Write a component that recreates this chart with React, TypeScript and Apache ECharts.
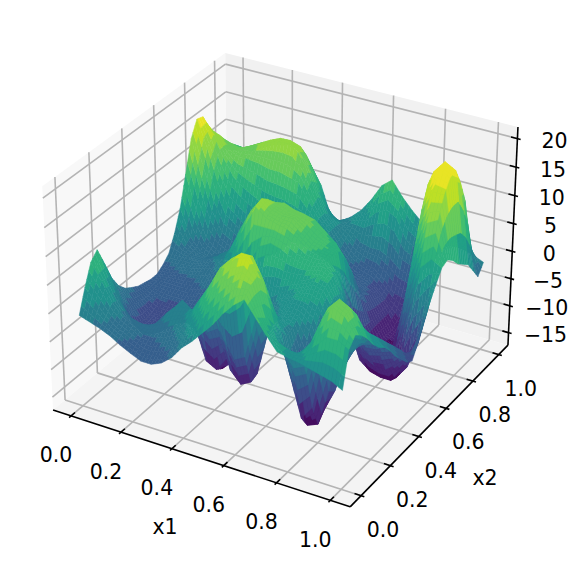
import React, { useEffect, useRef } from "react";
import * as echarts from "echarts";

const x1Ticks = [0, 0.2, 0.4, 0.6, 0.8, 1];
const x2Ticks = [0, 0.2, 0.4, 0.6, 0.8, 1];
const zTicks = [-15, -10, -5, 0, 5, 10, 15, 20];
const colorStops = ["#440154", "#482475", "#414487", "#355f8d", "#2a788e", "#21918c", "#22a884", "#44bf70", "#7ad151", "#bddf26", "#fde725"];
// z values: one row per x1 (0 to 1), one column per x2 (0 to 1)
const zRows: number[][] = [
[-1,3,6.5,7.8,4.5,1,-1.3,-2.7,-3.5,-4.2,-4.5,-4.8,-4.8,-4,-2.8,0,3.7,9,14.5,17.2,16.8,13.8,10.8,9,7.7,6.7],
[-1.6,1,3.7,3.5,0.5,-2.5,-4.2,-5,-5.3,-5.4,-5,-4.6,-4.4,-3.8,-2.8,-2,-1,3,8,12.5,14,13.2,11.5,10,8.8,7.5],
[-2.2,-1,0.5,0,-3,-6,-7,-7.2,-7,-6.2,-5.4,-4.6,-4,-3.4,-2.8,-3,-3.2,-1.5,2.5,7,10.5,11,10.4,9.6,8.6,7.5],
[-3,-2.4,-1.5,-2.5,-5,-7.5,-8,-7.6,-7.2,-6.4,-5.5,-4.6,-3.8,-3,-2.8,-3,-3.8,-3.2,-1,3,7.5,10.2,11,10.5,9.5,8.5],
[-4.1,-3.2,-2.5,-3,-4.6,-6.8,-7.5,-7.4,-7.2,-6.4,-5.5,-4.5,-3.5,-2.5,-1.8,-2,-3.5,-4,-2,1.5,6,10.2,11.9,11.5,10.5,9.5],
[-5,-4.2,-3.6,-3.2,-3.5,-5,-6,-6.4,-6.4,-5.8,-5,-4,-3,-2,-1,-1,-3,-4.5,-3.5,0,5,10,12.7,12.5,11.3,10],
[-5.8,-4.8,-3.6,-2.2,-1.2,-1.6,-3.2,-5.5,-6.5,-6.2,-5,-3.2,-1.6,-0.4,0.5,0.5,-1.5,-4,-4,-1,4,9.5,13.5,13.3,11.8,10.5],
[-5.8,-4.6,-3,-1,0.6,0.8,-1.5,-6,-10,-9.5,-5.5,-2,0.5,3,3.5,2.6,0.6,-2.4,-3.8,-1.5,3.5,9.5,13.8,13.4,11.5,9.3],
[-5,-3.8,-2,0,0.8,-0.5,-4,-11.5,-13,-12.5,-6,-1,4.5,7,7,5,2.5,-0.6,-2.4,-1,3.5,9,13.6,12.8,10.5,7.5],
[-3.5,-2,0,1.5,1,-1.5,-6,-12.5,-13.3,-12.8,-5,1,9,10.5,10,8.5,4.5,1,-1,-0.5,3,8.5,10.9,10,7,4.5],
[-1.2,1,3.5,4.5,3,0,-5,-10,-11.5,-8.5,-2,4,12.5,13,12,10.5,7.5,3.5,1,1,3,5.5,6.8,5.5,2.5,-0.8],
[0.5,3.5,6.5,7.5,4.5,-4,-10.5,-11.5,-8.5,-4,1.5,7,11,11.5,11.6,11,8,4,1,0,1.5,3,3.1,2,0,-1],
[2.5,6.5,10,11,6,-7,-12.5,-12.3,-7,-2.5,3,8,10.5,11,11,10.3,8,3.5,0.5,-1,-0.5,1,1,0.8,0.4,0.3],
[4.5,9,12.5,13,8,-6,-11.5,-11,-4,-1,3.5,7.5,10,11,10.7,10,7.5,3,0,-2,-3,-2,-1,0,1,2],
[7,11,14.5,14.5,9.5,1,-4,-3.5,-1,1,3.5,6.5,9,9.5,10,9.5,6,2,-1,-3,-4,-4,-3,-1.5,1.5,4.5],
[9,12.5,15,14.5,9.5,3,0,0.5,2,2.5,4,6,7.5,8,8.5,8,5,1,-2,-4,-5,-5,-4,-2,3.5,7.5],
[10.5,12,12.5,11,7,3,1.5,2,3,3.5,4.5,6,7,7.5,7.5,6.5,3.5,-0.5,-3.5,-5,-5.5,-5.5,-4.5,-2,4.5,9],
[8,7,6,4,2,0,0.5,1.5,3,4.5,5.5,6.5,7,7,6.5,4,1,-2.5,-5,-6,-6.5,-7,-6,-3,3.5,6.5],
[5.5,4,2,-1,-6,-8,-4.5,-0.5,2,4,5,5.5,4,0,-4,-8,-9,-9,-9,-9,-9,-9,-8,-4.5,0,4.5],
[3.2,3.2,1,-4,-12.5,-14.8,-12,-5,-1.5,1,2,1,-3,-8,-12,-13,-13,-12.5,-12,-12,-12,-11,-8.5,-5,-1,2.8],
[2.8,2.5,1.5,-3,-10,-14,-12.5,-7.5,-4.5,-2.5,-1.5,-3,-6,-10,-13.5,-14.5,-14.5,-14,-13.5,-13,-12,-9.5,-6,-3,-0.5,2],
[2.5,3,4,4,-1,-7.5,-8.5,-6.5,-4.5,-3.5,-3.5,-5,-8,-11,-14,-14.8,-14,-10,-5,0,4,4.5,1,-2.5,-1,1],
[2,5,8.5,9.5,7,3,-1,-2,-2,-2.5,-3.5,-5,-7.5,-11,-14,-14.5,-9,-2,5,12,15.5,16.8,12,5.5,1,0.5],
[1.5,7,11,11.5,9,5.5,3.5,2,0.5,-1,-2.5,-4,-7,-9.5,-11.5,-12,-4,4,11,15.5,18.5,19,15,7.5,1.5,0],
[1,7,10,10.5,8.5,5.5,3.5,2,0.5,-1,-2.5,-4,-5.5,-7.5,-8.5,-7,-1,6,12,15.5,17.5,18,15,11,3,-0.5],
[0,6,7.5,6.5,5,3,1.5,0.5,-1,-3,-4.5,-6,-6.8,-4.5,-1.5,1,3,5,5.5,4.5,3,2,1,-1,-3,-1.3],
];

const W = 581, H = 568;
const CX = 284.7, CY = 269, SX = 2860, SY = 2855;
const LO = -0.0729, HI = 1.0729, ZLO = -17.35, ZHI = 22;
const COLOR_MIN = -14.8, COLOR_MAX = 18.5, LEVELS = 15, CELL_SPLIT = 3;
const BOX = [1.19, 1.19, 0.893];
const U = [0.866, 0.5, 0], V = [-0.25, 0.433, 0.866], P = [0.433, -0.75, 0.5];

function project(x1: number, x2: number, z: number) {
  const d = [
    BOX[0] * ((x1 - LO) / (HI - LO) - 0.5),
    BOX[1] * ((x2 - LO) / (HI - LO) - 0.5),
    BOX[2] * ((z - ZLO) / (ZHI - ZLO) - 0.5),
  ];
  const dot = (a: number[]) => a[0] * d[0] + a[1] * d[1] + a[2] * d[2];
  const depth = 10 - dot(P);
  return { xs: dot(U) / depth, ys: dot(V) / depth, depth };
}

function viridis(t: number) {
  const c = Math.max(0, Math.min(0.9999, t)) * (colorStops.length - 1);
  const i = Math.floor(c), f = c - i;
  const a = colorStops[i], b = colorStops[i + 1];
  const ch = (s: string, k: number) => parseInt(s.slice(1 + 2 * k, 3 + 2 * k), 16);
  const mix = (k: number) => Math.round(ch(a, k) + (ch(b, k) - ch(a, k)) * f);
  return `rgb(${mix(0)},${mix(1)},${mix(2)})`;
}

function bandColor(z: number) {
  const t = (z - COLOR_MIN) / (COLOR_MAX - COLOR_MIN);
  const lv = Math.max(0, Math.min(LEVELS - 1, Math.floor(t * LEVELS)));
  return viridis((lv + 0.5) / LEVELS);
}

type Cell = { i: number; j: number; depth: number };
function buildCells(): Cell[] {
  const n = zRows.length - 1, m = zRows[0].length - 1;
  const cells: Cell[] = [];
  for (let i = 0; i < n; i++) {
    for (let j = 0; j < m; j++) {
      const avg = (zRows[i][j] + zRows[i + 1][j] + zRows[i + 1][j + 1] + zRows[i][j + 1]) / 4;
      cells.push({ i, j, depth: project((i + 0.5) / n, (j + 0.5) / m, avg).depth });
    }
  }
  return cells.sort((a, b) => b.depth - a.depth);
}

const fontSpec = '20.5px "DejaVu Sans"';
const label = (t: number) => t.toFixed(1);
const zLabel = (t: number) => (t < 0 ? "\u2212" + Math.abs(t) : String(t));

export default function App() {
  const ref = useRef<HTMLDivElement>(null);
  useEffect(() => {
    if (!ref.current) return;
    const chart = echarts.init(ref.current, undefined, { renderer: "svg" });
    const cells = buildCells();
    const n = zRows.length - 1, m = zRows[0].length - 1;

    const pt = (api: any, x1: number, x2: number, z: number) => {
      const p = project(x1, x2, z);
      return api.coord([p.xs, p.ys]);
    };
    const poly = (api: any, pts: number[][], fill: string) => ({
      type: "polygon", shape: { points: pts.map((q) => pt(api, q[0], q[1], q[2])) }, style: { fill, stroke: "none" }, silent: true,
    });
    const seg = (api: any, a: number[], b: number[], stroke: string, lineWidth: number) => {
      const p = pt(api, a[0], a[1], a[2]), q = pt(api, b[0], b[1], b[2]);
      return { type: "line", shape: { x1: p[0], y1: p[1], x2: q[0], y2: q[1] }, style: { stroke, lineWidth }, silent: true };
    };
    const text = (s: string, x: number, y: number) => ({
      type: "text", style: { text: s, x, y, font: fontSpec, fill: "#000", align: "center", verticalAlign: "middle" }, silent: true,
    });

    const renderFrame = (_p: any, api: any) => {
      const kids: any[] = [
        poly(api, [[LO, LO, ZLO], [LO, HI, ZLO], [LO, HI, ZHI], [LO, LO, ZHI]], "#f8f8f8"),
        poly(api, [[LO, HI, ZLO], [HI, HI, ZLO], [HI, HI, ZHI], [LO, HI, ZHI]], "#f1f1f1"),
        poly(api, [[LO, LO, ZLO], [HI, LO, ZLO], [HI, HI, ZLO], [LO, HI, ZLO]], "#f4f4f4"),
      ];
      const G = "#b4b4b4", LW = 1.6;
      x1Ticks.forEach((t) => {
        kids.push(seg(api, [t, LO, ZLO], [t, HI, ZLO], G, LW));
        kids.push(seg(api, [t, HI, ZLO], [t, HI, ZHI], G, LW));
      });
      x2Ticks.forEach((t) => {
        kids.push(seg(api, [HI, t, ZLO], [LO, t, ZLO], G, LW));
        kids.push(seg(api, [LO, t, ZLO], [LO, t, ZHI], G, LW));
      });
      zTicks.forEach((t) => {
        kids.push(seg(api, [LO, LO, t], [LO, HI, t], G, LW));
        kids.push(seg(api, [LO, HI, t], [HI, HI, t], G, LW));
      });
      kids.push(seg(api, [LO, LO, ZLO], [HI, LO, ZLO], "#000", LW));
      kids.push(seg(api, [HI, LO, ZLO], [HI, HI, ZLO], "#000", LW));
      kids.push(seg(api, [HI, HI, ZLO], [HI, HI, ZHI], "#000", LW));
      return { type: "group", children: kids };
    };

    // Each table cell is one flat-geometry quad; the colour bands are evaluated across it.
    const renderCell = (_p: any, api: any) => {
      const { i, j } = cells[api.value(0)];
      const a = zRows[i][j], b = zRows[i + 1][j], c = zRows[i + 1][j + 1], d = zRows[i][j + 1];
      const at = (u: number, v: number) => {
        const z = a * (1 - u) * (1 - v) + b * u * (1 - v) + c * u * v + d * (1 - u) * v;
        return { p: pt(api, (i + u) / n, (j + v) / m, z), z };
      };
      const kids: any[] = [];
      for (let s = 0; s < CELL_SPLIT; s++) {
        for (let t = 0; t < CELL_SPLIT; t++) {
          const k = 1 / CELL_SPLIT;
          const q = [at(s * k, t * k), at((s + 1) * k, t * k), at((s + 1) * k, (t + 1) * k), at(s * k, (t + 1) * k)];
          const col = bandColor((q[0].z + q[1].z + q[2].z + q[3].z) / 4);
          kids.push({ type: "polygon", shape: { points: q.map((e) => e.p) }, style: { fill: col, stroke: col, lineWidth: 0.5 }, silent: true });
        }
      }
      return { type: "group", children: kids };
    };

    const renderOverlay = (_p: any, api: any) => {
      const kids: any[] = [];
      const LW = 1.6;
      x1Ticks.forEach((t) => {
        kids.push(seg(api, [t, LO - 0.012, ZLO], [t, LO + 0.024, ZLO], "#000", LW));
        const a = pt(api, t, LO, ZLO);
        kids.push(text(label(t), a[0] - 15, a[1] + 39.5));
      });
      x2Ticks.forEach((t) => {
        kids.push(seg(api, [HI + 0.012, t, ZLO], [HI - 0.024, t, ZLO], "#000", LW));
        const a = pt(api, HI, t, ZLO);
        kids.push(text(label(t), a[0] + 22, a[1] + 34));
      });
      zTicks.forEach((t) => {
        kids.push(seg(api, [HI + 0.012, HI, t], [HI - 0.024, HI, t], "#000", LW));
        const a = pt(api, HI, HI, t);
        kids.push(text(zLabel(t), a[0] + 37, a[1] + 2.5));
      });
      kids.push(text("x1", 165, 527));
      kids.push(text("x2", 485, 478));
      return { type: "group", children: kids };
    };

    chart.setOption({
      animation: false,
      backgroundColor: "#fff",
      grid: { left: 0, right: 0, top: 0, bottom: 0 },
      xAxis: { type: "value", show: false, min: (0 - CX) / SX, max: (W - CX) / SX },
      yAxis: { type: "value", show: false, min: (CY - H) / SY, max: CY / SY },
      series: [
        { type: "custom", renderItem: renderFrame, data: [[0]], clip: false, silent: true, z: 1 },
        { type: "custom", renderItem: renderCell, data: cells.map((_, k) => [k]), clip: false, silent: true, z: 2, progressive: 0 },
        { type: "custom", renderItem: renderOverlay, data: [[0]], clip: false, silent: true, z: 3 },
      ],
    });
    return () => chart.dispose();
  }, []);
  return <div ref={ref} style={{ position: "absolute", left: 0, top: 0, width: W, height: H }} />;
}
